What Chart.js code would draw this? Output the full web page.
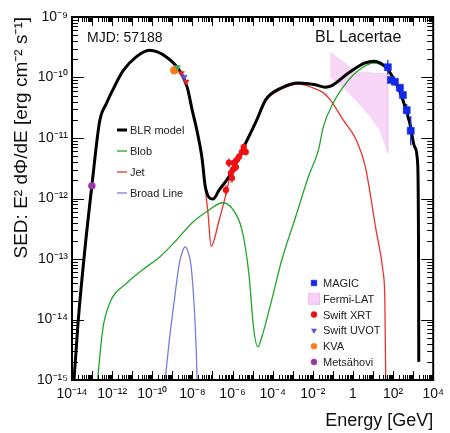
<!DOCTYPE html>
<html>
<head>
<meta charset="utf-8">
<script src="https://cdn.jsdelivr.net/npm/chart.js@4.4.1/dist/chart.umd.min.js"></script>
<style>
  html, body { margin: 0; padding: 0; background: #fff; }
  #wrap { width: 450px; height: 433px; }
</style>
</head>
<body>
<div id="wrap"><canvas id="sed" width="450" height="433"></canvas></div>
<script>
// all values as log10(E / GeV) and log10(SED / erg cm-2 s-1)
const blrLogE = [-13.92, -13.70, -13.36, -13.01, -12.62, -12.30, -11.96, -11.46, -10.80, -10.14, -9.30, -8.65, -8.26, -8.01, -7.76, -7.51, -7.37, -7.17, -6.97, -6.67, -6.18, -5.34, -4.79, -4.35, -3.55, -2.71, -1.87, -1.38, -1.08, -0.24, 0.60, 1.05, 1.64, 2.14, 2.49, 2.83, 3.08, 3.23, 3.27, 3.28];
const blrLogF = [-15.10, -14.06, -12.85, -11.79, -10.72, -10.44, -10.20, -9.89, -9.66, -9.55, -9.66, -9.88, -10.16, -10.54, -10.90, -11.36, -11.78, -11.98, -12.01, -11.86, -11.64, -11.08, -10.70, -10.37, -10.17, -10.09, -10.12, -10.16, -10.14, -9.93, -9.76, -9.73, -9.83, -10.09, -10.37, -10.75, -11.15, -11.45, -13.00, -14.70];

const blobLogE = [-12.78, -12.47, -12.12, -11.28, -10.49, -9.64, -8.80, -8.01, -7.17, -6.52, -6.03, -5.53, -5.19, -4.94, -4.74, -4.54, -4.05, -3.55, -2.86, -2.22, -1.72, -1.48, -0.98, -0.49, 0.01, 0.50, 1.00, 1.64, 2.14, 2.49, 2.83, 3.08, 3.23, 3.27, 3.28];
const blobLogF = [-15.20, -14.17, -13.73, -13.40, -13.18, -12.97, -12.69, -12.40, -12.19, -12.07, -12.16, -12.52, -13.23, -14.17, -14.45, -14.29, -13.68, -13.02, -12.31, -11.64, -11.20, -10.82, -10.42, -10.16, -9.96, -9.83, -9.76, -9.84, -10.10, -10.38, -10.76, -11.16, -11.46, -13.00, -14.70];

const jetLogE = [-13.92, -13.70, -13.36, -13.01, -12.62, -12.30, -11.96, -11.46, -10.80, -10.14, -9.30, -8.65, -8.26, -8.01, -7.76, -7.51, -7.37, -7.22, -7.07, -6.67, -6.28, -6.13, -5.34, -4.79, -4.35, -3.55, -2.71, -2.00, -1.48, -1.13, -0.49, 0.16, 0.60, 1.15, 1.50, 1.59, 1.64];
const jetLogF = [-15.10, -14.06, -12.85, -11.79, -10.72, -10.44, -10.20, -9.89, -9.66, -9.55, -9.66, -9.88, -10.16, -10.54, -10.90, -11.36, -11.80, -12.25, -12.79, -12.36, -11.86, -11.64, -11.09, -10.71, -10.39, -10.19, -10.11, -10.17, -10.25, -10.37, -10.70, -11.03, -11.45, -12.52, -13.21, -13.68, -15.20];

const blineLogE = [-9.45, -9.15, -8.90, -8.65, -8.50, -8.36, -8.22, -8.06, -7.91, -7.81, -7.74];
const blineLogF = [-15.30, -14.34, -13.68, -13.07, -12.88, -12.80, -12.88, -13.13, -13.79, -14.50, -15.30];

// Fermi-LAT butterfly: upper edge left to right, then lower edge right to left
const fermiLogE = [-1.13, -0.49, 0.16, 0.80, 1.35, 1.74, 1.74, 1.35, 0.80, 0.16, -0.49, -1.13];
const fermiLogF = [-9.58, -9.74, -9.91, -9.92, -9.93, -9.93, -11.25, -10.87, -10.62, -10.38, -10.16, -9.99];

const magicLogE = [1.74, 1.89, 2.09, 2.34, 2.49, 2.68, 2.88];
const magicLogF = [-9.83, -10.04, -10.07, -10.17, -10.29, -10.54, -10.88];
const magicErr = [0.12, 0.05, 0.05, 0.06, 0.07, 0.10, 0.24];

const xrtLogE = [-6.33, -6.18, -6.08, -6.03, -5.93, -5.83, -5.78, -5.68, -5.53, -5.44, -5.34, -5.98];
const xrtLogF = [-11.86, -11.41, -11.58, -11.66, -11.41, -11.48, -11.36, -11.31, -11.23, -11.15, -11.23, -11.52];
const xrtErr = [0.08, 0.07, 0.07, 0.08, 0.07, 0.07, 0.06, 0.06, 0.06, 0.06, 0.06, 0.07];

const uvotLogE = [-8.75, -8.55, -8.41, -8.31];
const uvotLogF = [-9.83, -9.93, -9.99, -10.07];
const uvotColors = ['#3aa655', '#e8202a', '#5656d6', '#e8202a'];

const kvaLogE = [-8.90];
const kvaLogF = [-9.88];
const metsLogE = [-13.01];
const metsLogF = [-11.79];

const xTickExp = [-14, -12, -10, -8, -6, -4, -2, 0, 2, 4];
const xTickLabels = ['10⁻¹⁴', '10⁻¹²', '10⁻¹⁰', '10⁻⁸', '10⁻⁶', '10⁻⁴', '10⁻²', '1', '10²', '10⁴'];
const yTickExp = [-15, -14, -13, -12, -11, -10, -9];
const yTickLabels = ['10⁻¹⁵', '10⁻¹⁴', '10⁻¹³', '10⁻¹²', '10⁻¹¹', '10⁻¹⁰', '10⁻⁹'];

const mjdText = 'MJD: 57188';
const sourceText = 'BL Lacertae';

const FONT = '"Liberation Sans", Arial, Helvetica, sans-serif';

const pts = (xs, ys) => xs.map((v, i) => ({ x: Math.pow(10, v), y: Math.pow(10, ys[i]) }));

const curve = (label, xs, ys, color, width, order) => ({
  label, data: pts(xs, ys), borderColor: color, backgroundColor: color,
  borderWidth: width, pointRadius: 0, cubicInterpolationMode: 'monotone',
  fill: false, order, legendGroup: 'model'
});

const marks = (label, xs, ys, color, style, radius, extra) => Object.assign({
  label, data: pts(xs, ys), showLine: false, pointStyle: style, pointRadius: radius,
  pointBackgroundColor: color, pointBorderColor: color, borderColor: color, backgroundColor: color,
  pointBorderWidth: 0.5, order: -1, legendGroup: 'data'
}, extra || {});

const datasets = [
  curve('BLR model', blrLogE, blrLogF, '#000000', 3, 1),
  curve('Blob', blobLogE, blobLogF, '#22a52a', 1.3, 2),
  curve('Jet', jetLogE, jetLogF, '#e8332d', 1.3, 3),
  curve('Broad Line', blineLogE, blineLogF, '#7c7ce0', 1.3, 4),
  marks('MAGIC', magicLogE, magicLogF, '#1428e6', 'rect', 5, { errY: magicErr }),
  {
    label: 'Fermi-LAT', data: pts(fermiLogE, fermiLogF), borderWidth: 0.6, pointRadius: 0,
    borderColor: 'rgba(236,180,236,0.6)', backgroundColor: 'rgba(244,196,244,0.7)', fill: 'shape',
    tension: 0, order: 6, legendGroup: 'data', legendColor: 'rgba(244,196,244,0.8)'
  },
  marks('Swift XRT', xrtLogE, xrtLogF, '#ee1111', 'circle', 3, { errY: xrtErr, errX: 0.06 }),
  marks('Swift UVOT', uvotLogE, uvotLogF, '#5656d6', 'triangle', 3.5, {
    pointRotation: 180, pointBackgroundColor: uvotColors, pointBorderColor: uvotColors
  }),
  marks('KVA', kvaLogE, kvaLogF, '#ff7a1a', 'circle', 4),
  marks('Metsähovi', metsLogE, metsLogF, '#9a35a8', 'circle', 3.5)
];

const errorBars = {
  id: 'errorBars',
  beforeDatasetDraw(chart, args) {
    const ds = chart.data.datasets[args.index];
    if (!ds.errY) return;
    const { ctx, scales: { x, y } } = chart;
    ctx.save();
    ctx.strokeStyle = ds.borderColor;
    ctx.lineWidth = 1.3;
    ctx.beginPath();
    ds.data.forEach((p, i) => {
      const lx = Math.log10(p.x), ly = Math.log10(p.y);
      const px = x.getPixelForValue(p.x);
      const py = y.getPixelForValue(p.y);
      ctx.moveTo(px, y.getPixelForValue(Math.pow(10, ly + ds.errY[i])));
      ctx.lineTo(px, y.getPixelForValue(Math.pow(10, ly - ds.errY[i])));
      if (ds.errX) {
        ctx.moveTo(x.getPixelForValue(Math.pow(10, lx - ds.errX)), py);
        ctx.lineTo(x.getPixelForValue(Math.pow(10, lx + ds.errX)), py);
      }
    });
    ctx.stroke();
    ctx.restore();
  }
};

const decor = {
  id: 'decor',
  afterDatasetsDraw(chart) {
    const { ctx, chartArea: a, scales: { x, y } } = chart;
    ctx.save();
    // inside tick marks on all four sides, ROOT style
    ctx.strokeStyle = '#000';
    ctx.lineWidth = 1;
    ctx.beginPath();
    for (let d = -14; d <= 4; d++) {
      for (let k = 1; k < 10; k++) {
        if (d === 4 && k > 1) break;
        const px = Math.round(x.getPixelForValue(k * Math.pow(10, d))) + 0.5;
        const len = k === 1 ? 9 : 5;
        ctx.moveTo(px, a.bottom); ctx.lineTo(px, a.bottom - len);
        ctx.moveTo(px, a.top); ctx.lineTo(px, a.top + len);
      }
    }
    for (let d = -15; d <= -9; d++) {
      for (let k = 1; k < 10; k++) {
        if (d === -9 && k > 1) break;
        const py = Math.round(y.getPixelForValue(k * Math.pow(10, d))) + 0.5;
        const len = k === 1 ? 12 : 6;
        ctx.moveTo(a.left, py); ctx.lineTo(a.left + len, py);
        ctx.moveTo(a.right, py); ctx.lineTo(a.right - len, py);
      }
    }
    ctx.stroke();
    ctx.lineWidth = 2;
    ctx.strokeRect(a.left, a.top, a.right - a.left, a.bottom - a.top);

    // labels in the plot
    ctx.fillStyle = '#111';
    ctx.textBaseline = 'alphabetic';
    ctx.textAlign = 'left';
    ctx.font = '14px ' + FONT;
    ctx.fillText(mjdText, 87, 42);
    ctx.font = '16px ' + FONT;
    ctx.fillText(sourceText, 315, 42);

    // two legends
    ctx.font = '11px ' + FONT;
    ctx.textBaseline = 'middle';
    const model = chart.data.datasets.filter(d => d.legendGroup === 'model');
    model.forEach((d, i) => {
      const ly = 130 + i * 21;
      ctx.strokeStyle = d.borderColor;
      ctx.lineWidth = d.borderWidth;
      ctx.beginPath();
      ctx.moveTo(117, ly); ctx.lineTo(127, ly);
      ctx.stroke();
      ctx.fillStyle = '#222';
      ctx.fillText(d.label, 130, ly + 1);
    });
    const data = chart.data.datasets.filter(d => d.legendGroup === 'data');
    data.forEach((d, i) => {
      const ly = 283 + i * 15.8;
      if (d.legendColor) {
        ctx.fillStyle = d.legendColor;
        ctx.fillRect(308, ly - 6, 12, 12);
        ctx.strokeStyle = 'rgba(220,150,220,0.6)';
        ctx.lineWidth = 0.8;
        ctx.setLineDash([1, 1]);
        ctx.strokeRect(308.5, ly - 5.5, 11, 11);
        ctx.setLineDash([]);
      } else {
        ctx.fillStyle = d.borderColor;
        ctx.strokeStyle = d.borderColor;
        ctx.lineWidth = 0.5;
        Chart.helpers.drawPoint(ctx, {
          pointStyle: d.pointStyle, radius: d.pointStyle === 'rect' ? 4 : 3,
          rotation: d.pointRotation || 0, borderWidth: 0.5
        }, 314, ly);
      }
      ctx.fillStyle = '#222';
      ctx.fillText(d.label, 323, ly + 1);
    });
    ctx.restore();
  }
};

new Chart(document.getElementById('sed'), {
  type: 'line',
  data: { datasets },
  options: {
    responsive: false,
    animation: false,
    layout: { padding: { top: 17, right: 15, left: 0, bottom: 0 } },
    plugins: { legend: { display: false }, tooltip: { enabled: false } },
    scales: {
      x: {
        type: 'logarithmic', position: 'bottom', min: 1e-14, max: 1e4,
        grid: { display: false, drawTicks: false },
        border: { display: false },
        afterBuildTicks: s => { s.ticks = xTickExp.map(e => ({ value: Math.pow(10, e) })); },
        afterFit: s => { s.height = 53; },
        ticks: {
          autoSkip: false, maxRotation: 0, padding: 6, color: '#111',
          font: { family: FONT, size: 14 },
          callback: v => xTickLabels[xTickExp.indexOf(Math.round(Math.log10(v)))]
        },
        title: {
          display: true, text: 'Energy [GeV]', align: 'end', color: '#111',
          font: { family: FONT, size: 18 }, padding: { top: 0, bottom: 1 }
        }
      },
      y: {
        type: 'logarithmic', position: 'left', min: 1e-15, max: 1e-9,
        grid: { display: false, drawTicks: false },
        border: { display: false },
        afterBuildTicks: s => { s.ticks = yTickExp.map(e => ({ value: Math.pow(10, e) })); },
        afterFit: s => { s.width = 72; },
        ticks: {
          autoSkip: false, padding: 4, color: '#111',
          font: { family: FONT, size: 14 },
          callback: v => yTickLabels[yTickExp.indexOf(Math.round(Math.log10(v)))]
        },
        title: {
          display: true, text: 'SED: E² dΦ/dE [erg cm⁻² s⁻¹]', align: 'end', color: '#111',
          font: { family: FONT, size: 19 }, padding: { top: 10, bottom: 0 }
        }
      }
    }
  },
  plugins: [errorBars, decor]
});
</script>
</body>
</html>
